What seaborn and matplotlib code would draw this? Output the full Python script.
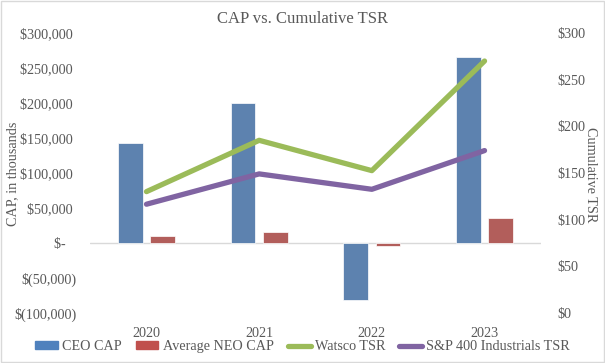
import matplotlib
matplotlib.use("Agg")
import matplotlib.pyplot as plt
import matplotlib.patches as mpatches
import numpy as np
import pandas as pd
import seaborn as sns

# values
years = ["2020", "2021", "2022", "2023"]
ceo_cap = [143000, 200000, -81000, 266000]
neo_cap = [10500, 16000, -4000, 36000]
watsco_tsr = [130, 185, 152.5, 270]
sp400_tsr = [116.5, 149, 132.5, 174]

bar_colors = ["#4F81BD", "#C0504D"]
green, purple = "#9BBB59", "#8064A2"
gray = "#595959"

bars = pd.DataFrame({
    "Year": years * 2,
    "CAP": ceo_cap + neo_cap,
    "Series": ["CEO CAP"] * 4 + ["Average NEO CAP"] * 4,
})
lines = pd.DataFrame({"Year": years, "Watsco TSR": watsco_tsr,
                      "S&P 400 Industrials TSR": sp400_tsr})
lines["pos"] = pd.Categorical(lines["Year"], categories=years).codes

sns.set_style("white")
plt.rcParams["font.family"] = ["Liberation Serif", "DejaVu Serif"]

fs = 10.2
fig = plt.figure(figsize=(6.05, 3.63), dpi=100)
ax = fig.add_axes([0.149, 0.138, 0.745, 0.771])

sns.barplot(data=bars, x="Year", y="CAP", hue="Series", order=years,
            palette=bar_colors, width=0.57, gap=0.23, ax=ax,
            edgecolor="white", linewidth=0.5, legend=False)
ax.axhline(0, color="#d9d9d9", lw=1, zorder=0)
ax.set_ylim(-100000, 300000)
ax.set_yticks(np.arange(-100000, 300001, 50000))

def fmt(v):
    if v == 0:
        return "$-   "
    if v < 0:
        return "$({:,})".format(int(-v))
    return "${:,} ".format(int(v))

ax.set_yticklabels([fmt(v) for v in ax.get_yticks()])
ax.set_xlabel("")
ax.set_ylabel("")
ax.tick_params(axis="y", length=0, pad=10, labelsize=fs, labelcolor=gray)
ax.tick_params(axis="x", length=0, pad=10, labelsize=fs, labelcolor=gray)
for s in ax.spines.values():
    s.set_visible(False)

ax2 = ax.twinx()
sns.lineplot(data=lines, x="pos", y="Watsco TSR", color=green, lw=3.8,
             solid_capstyle="round", ax=ax2)
sns.lineplot(data=lines, x="pos", y="S&P 400 Industrials TSR", color=purple,
             lw=3.8, solid_capstyle="round", ax=ax2)
ax2.set_ylim(0, 300)
ax2.set_yticks(np.arange(0, 301, 50))
ax2.set_yticklabels(["${}".format(int(v)) for v in ax2.get_yticks()])
ax2.set_xlim(-0.5, 3.5)
ax2.set_ylabel("")
ax2.set_xlabel("")
ax2.tick_params(axis="y", length=0, pad=12, labelsize=fs, labelcolor=gray)
for s in ax2.spines.values():
    s.set_visible(False)

fig.text(0.5, 0.948, "CAP vs. Cumulative TSR", ha="center", va="center",
         fontsize=12, color=gray)
fig.text(0.021, 0.52, "CAP, in thousands", rotation=90, ha="center",
         va="center", fontsize=fs, color=gray)
fig.text(0.976, 0.52, "Cumulative TSR", rotation=270, ha="center",
         va="center", fontsize=fs, color=gray)

handles = [mpatches.Patch(color=bar_colors[0], label="CEO CAP"),
           mpatches.Patch(color=bar_colors[1], label="Average NEO CAP"),
           plt.Line2D([], [], color=green, lw=3.8, solid_capstyle="round",
                      label="Watsco TSR"),
           plt.Line2D([], [], color=purple, lw=3.8, solid_capstyle="round",
                      label="S&P 400 Industrials TSR")]
leg = fig.legend(handles=handles, loc="center", bbox_to_anchor=(0.5, 0.045),
                 ncol=4, frameon=False, fontsize=fs, handlelength=1.6,
                 handleheight=0.55, handletextpad=0.3, columnspacing=1.0)
for t in leg.get_texts():
    t.set_color(gray)

fig.add_artist(mpatches.Rectangle((0.002, 0.003), 0.996, 0.994,
                                  transform=fig.transFigure, fill=False,
                                  edgecolor="#d9d9d9", lw=1))

fig.savefig("out.png", dpi=100)
